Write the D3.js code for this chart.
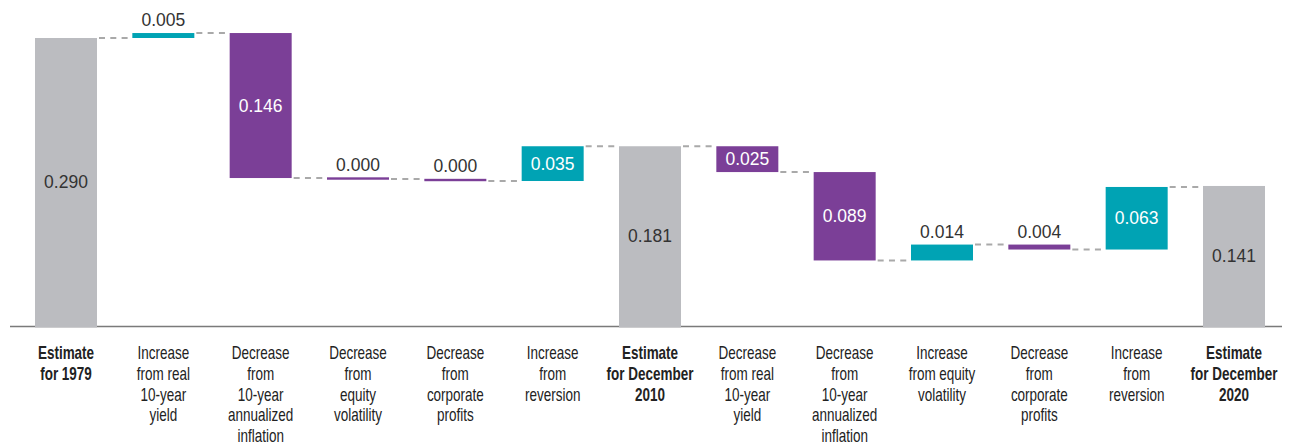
<!DOCTYPE html>
<html>
<head>
<meta charset="utf-8">
<script src="https://cdn.jsdelivr.net/npm/d3@7"></script>
<style>
  body { margin: 0; background: #fff; }
  svg { display: block; }
  .val { font-family: "Liberation Sans", Arial, sans-serif; font-size: 17.5px; }
  .cat { font-family: "Liberation Sans Narrow", "Arial Narrow", "Liberation Sans", sans-serif; font-size: 17.5px; fill: #222; }
</style>
</head>
<body>
<script>
// categories, one entry per bar, split in lines
var categories = [
  ["Estimate", "for 1979"],
  ["Increase", "from real", "10-year", "yield"],
  ["Decrease", "from", "10-year", "annualized", "inflation"],
  ["Decrease", "from", "equity", "volatility"],
  ["Decrease", "from", "corporate", "profits"],
  ["Increase", "from", "reversion"],
  ["Estimate", "for December", "2010"],
  ["Decrease", "from real", "10-year", "yield"],
  ["Decrease", "from", "10-year", "annualized", "inflation"],
  ["Increase", "from equity", "volatility"],
  ["Decrease", "from", "corporate", "profits"],
  ["Increase", "from", "reversion"],
  ["Estimate", "for December", "2020"]
];
// totals are absolute values, the others are changes (as drawn)
var kinds = ["total", "up", "down", "down", "down", "up", "total", "down", "down", "up", "down", "up", "total"];
var values = [0.290, 0.005, -0.146, -0.001, -0.002, 0.035, 0.181, -0.026, -0.089, 0.016, -0.005, 0.063, 0.141];
var valueLabels = ["0.290", "0.005", "0.146", "0.000", "0.000", "0.035", "0.181", "0.025", "0.089", "0.014", "0.004", "0.063", "0.141"];

var W = 1290, H = 448;
var baseY = 326;
var colors = { total: "#bbbcc0", up: "#00a3b4", down: "#7b3f97" };

var svg = d3.select("body").append("svg")
  .attr("width", W)
  .attr("height", H);

// running totals
var running = 0;
var bars = values.map(function (v, i) {
  var s, e;
  if (kinds[i] == "total") { s = 0; e = v; }
  else { s = running; e = running + v; }
  running = e;
  return { i: i, start: s, end: e, kind: kinds[i], label: valueLabels[i], cat: categories[i] };
});

var x = d3.scaleBand()
  .domain(d3.range(values.length))
  .range([35, 1265])
  .paddingInner(0.363)
  .paddingOuter(0);

var y = d3.scaleLinear()
  .domain([0, 0.290])
  .range([baseY, 38]);

// baseline
svg.append("line")
  .attr("x1", 10).attr("x2", 1282)
  .attr("y1", baseY + 0.5).attr("y2", baseY + 0.5)
  .attr("stroke", "#7a7a7a")
  .attr("stroke-width", 1.3);

// dashed connectors
svg.selectAll("line.conn")
  .data(bars.slice(0, -1))
  .enter().append("line")
  .attr("class", "conn")
  .attr("x1", function (d) { return x(d.i) + x.bandwidth() + 2; })
  .attr("x2", function (d) { return x(d.i + 1) - 2; })
  .attr("y1", function (d) { return y(d.end); })
  .attr("y2", function (d) { return y(d.end); })
  .attr("stroke", "#a9a9a9")
  .attr("stroke-width", 2)
  .attr("stroke-dasharray", "6,5.3");

// bars
function barTop(d) { return Math.min(y(d.start), y(d.end)); }
function realH(d) { return Math.abs(y(d.start) - y(d.end)); }
function drawH(d) { return Math.max(2.4, realH(d)); }

svg.selectAll("rect.bar")
  .data(bars)
  .enter().append("rect")
  .attr("class", "bar")
  .attr("x", function (d) { return x(d.i); })
  .attr("width", x.bandwidth())
  .attr("y", function (d) { return d.kind == "total" ? barTop(d) : barTop(d) - (drawH(d) - realH(d)) / 2; })
  .attr("height", function (d) { return d.kind == "total" ? baseY + 1.5 - barTop(d) : drawH(d); })
  .attr("fill", function (d) { return colors[d.kind]; });

// value labels
svg.selectAll("text.val")
  .data(bars)
  .enter().append("text")
  .attr("class", "val")
  .attr("text-anchor", "middle")
  .attr("x", function (d) { return x(d.i) + x.bandwidth() / 2; })
  .attr("y", function (d) {
    var h = realH(d);
    if (h >= 20) return barTop(d) + h / 2 + 6;
    return barTop(d) - 7;
  })
  .attr("fill", function (d) {
    if (realH(d) >= 20 && d.kind != "total") return "#fff";
    return "#333";
  })
  .text(function (d) { return d.label; });

// category labels, squeezed to a condensed look
var probe = svg.append("text").attr("class", "cat").text("Increase");
var sx = 51.7 / probe.node().getComputedTextLength();
probe.remove();

var cats = svg.selectAll("g.cat")
  .data(bars)
  .enter().append("g")
  .attr("class", "cat")
  .attr("transform", function (d) {
    return "translate(" + (x(d.i) + x.bandwidth() / 2) + ",359) scale(" + sx + ",1)";
  });

cats.each(function (d) {
  var t = d3.select(this).append("text")
    .attr("class", "cat")
    .attr("text-anchor", "middle")
    .attr("font-weight", d.kind == "total" ? "bold" : "normal");
  d.cat.forEach(function (line, j) {
    t.append("tspan").attr("x", 0).attr("y", j * 20.8).text(line);
  });
});
</script>
</body>
</html>
